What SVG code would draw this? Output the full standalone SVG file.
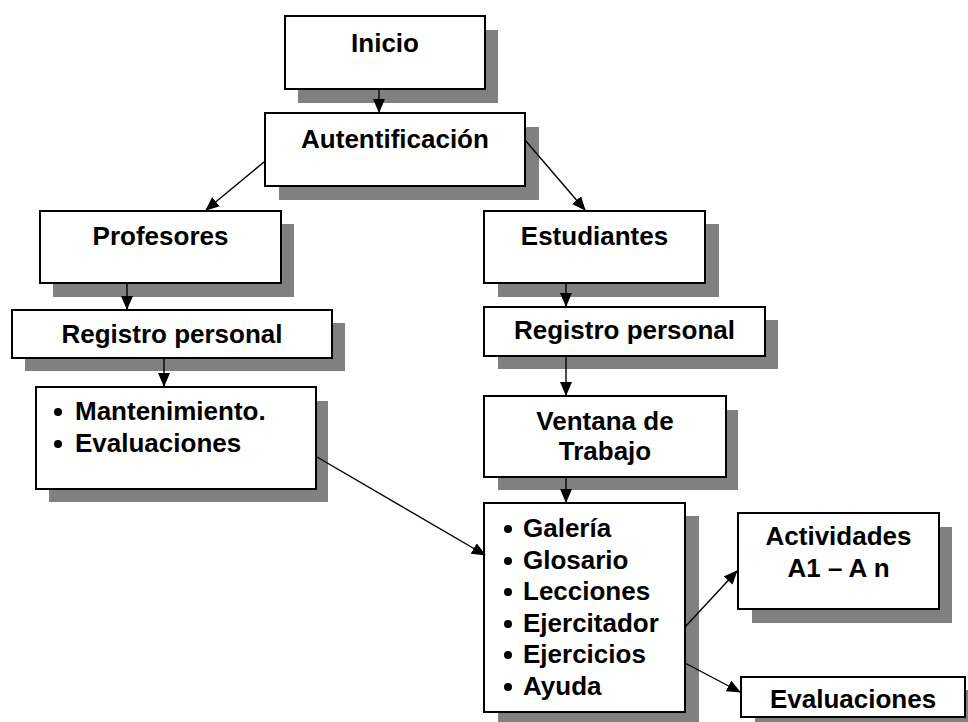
<svg xmlns="http://www.w3.org/2000/svg" width="968" height="722" viewBox="0 0 968 722">
  <style>
    .shadow { fill: #808080; }
    .box { fill: #ffffff; stroke: #000000; stroke-width: 2; }
    .lbl { font-family: "Liberation Sans", Arial, sans-serif; font-weight: bold; font-size: 26px; fill: #000000; }
    .c { text-anchor: middle; }
    .wire { stroke: #000000; stroke-width: 1.4; fill: none; marker-end: url(#arrow); }
    .dot { fill: #000000; }
  </style>
  <defs>
    <marker id="arrow" markerUnits="userSpaceOnUse" markerWidth="14" markerHeight="12" viewBox="0 0 14 12" refX="13" refY="6" orient="auto">
      <path d="M0,0 L14,6 L0,12 Z" fill="#000000"/>
    </marker>
  </defs>
  <rect width="968" height="722" fill="#ffffff"/>

  <g id="inicio">
    <rect class="shadow" x="298" y="30" width="200" height="73"/>
    <rect class="box" x="285" y="16" width="200" height="73"/>
    <text class="lbl c" x="385" y="52">Inicio</text>
  </g>

  <g id="autentificacion">
    <rect class="shadow" x="279" y="127" width="260" height="73"/>
    <rect class="box" x="265" y="113" width="260" height="73"/>
    <text class="lbl c" x="395" y="148">Autentificación</text>
  </g>

  <g id="profesores">
    <rect class="shadow" x="53" y="224" width="241" height="73"/>
    <rect class="box" x="40" y="211" width="241" height="72"/>
    <text class="lbl c" x="160.5" y="245">Profesores</text>
  </g>

  <g id="estudiantes">
    <rect class="shadow" x="498" y="224" width="221" height="73"/>
    <rect class="box" x="484" y="211" width="221" height="72"/>
    <text class="lbl c" x="594.5" y="245">Estudiantes</text>
  </g>

  <g id="registro-profesores">
    <rect class="shadow" x="25" y="323" width="320" height="48"/>
    <rect class="box" x="12" y="310" width="320" height="48"/>
    <text class="lbl c" x="172" y="343">Registro personal</text>
  </g>

  <g id="registro-estudiantes">
    <rect class="shadow" x="498" y="320" width="280" height="49"/>
    <rect class="box" x="484" y="307" width="281" height="49"/>
    <text class="lbl c" x="624.5" y="339">Registro personal</text>
  </g>

  <g id="mantenimiento">
    <rect class="shadow" x="49" y="401" width="279" height="101"/>
    <rect class="box" x="36" y="387" width="280" height="102"/>
    <circle class="dot" cx="58" cy="412" r="4"/>
    <text class="lbl" x="75" y="420">Mantenimiento.</text>
    <circle class="dot" cx="58" cy="444" r="4"/>
    <text class="lbl" x="75" y="452">Evaluaciones</text>
  </g>

  <g id="ventana">
    <rect class="shadow" x="498" y="410" width="240" height="80"/>
    <rect class="box" x="484" y="396" width="242" height="81"/>
    <text class="lbl c" x="605" y="430">Ventana de</text>
    <text class="lbl c" x="605" y="460">Trabajo</text>
  </g>

  <g id="modulos">
    <rect class="shadow" x="498" y="516" width="201" height="206"/>
    <rect class="box" x="484" y="503" width="201" height="209"/>
    <circle class="dot" cx="508" cy="529" r="4"/>
    <text class="lbl" x="523" y="537">Galería</text>
    <circle class="dot" cx="508" cy="561" r="4"/>
    <text class="lbl" x="523" y="569">Glosario</text>
    <circle class="dot" cx="508" cy="592" r="4"/>
    <text class="lbl" x="523" y="600">Lecciones</text>
    <circle class="dot" cx="508" cy="624" r="4"/>
    <text class="lbl" x="523" y="632">Ejercitador</text>
    <circle class="dot" cx="508" cy="655" r="4"/>
    <text class="lbl" x="523" y="663">Ejercicios</text>
    <circle class="dot" cx="508" cy="687" r="4"/>
    <text class="lbl" x="523" y="695">Ayuda</text>
  </g>

  <g id="actividades">
    <rect class="shadow" x="752" y="527" width="200" height="96"/>
    <rect class="box" x="738" y="513" width="201" height="96"/>
    <text class="lbl c" x="838.5" y="545">Actividades</text>
    <text class="lbl c" x="838.5" y="577">A1 – A n</text>
  </g>

  <g id="evaluaciones">
    <rect class="shadow" x="755" y="690" width="224" height="40"/>
    <rect class="box" x="741" y="677" width="224" height="40"/>
    <text class="lbl c" x="853" y="708">Evaluaciones</text>
  </g>

  <!-- connectors sit above the drop shadows -->
  <g id="connectors">
    <line class="wire" x1="379" y1="89" x2="379" y2="112"/>
    <line class="wire" x1="264" y1="162" x2="206" y2="210"/>
    <line class="wire" x1="525" y1="140" x2="585" y2="210"/>
    <line class="wire" x1="127" y1="283" x2="127" y2="309"/>
    <line class="wire" x1="566" y1="283" x2="566" y2="306"/>
    <line class="wire" x1="164" y1="358" x2="164" y2="386"/>
    <line class="wire" x1="566" y1="356" x2="566" y2="395"/>
    <line class="wire" x1="566" y1="477" x2="566" y2="502"/>
    <line class="wire" x1="317" y1="457" x2="485" y2="555"/>
    <line class="wire" x1="685" y1="627" x2="737" y2="571"/>
    <line class="wire" x1="685" y1="663" x2="740" y2="692"/>
  </g>
</svg>
